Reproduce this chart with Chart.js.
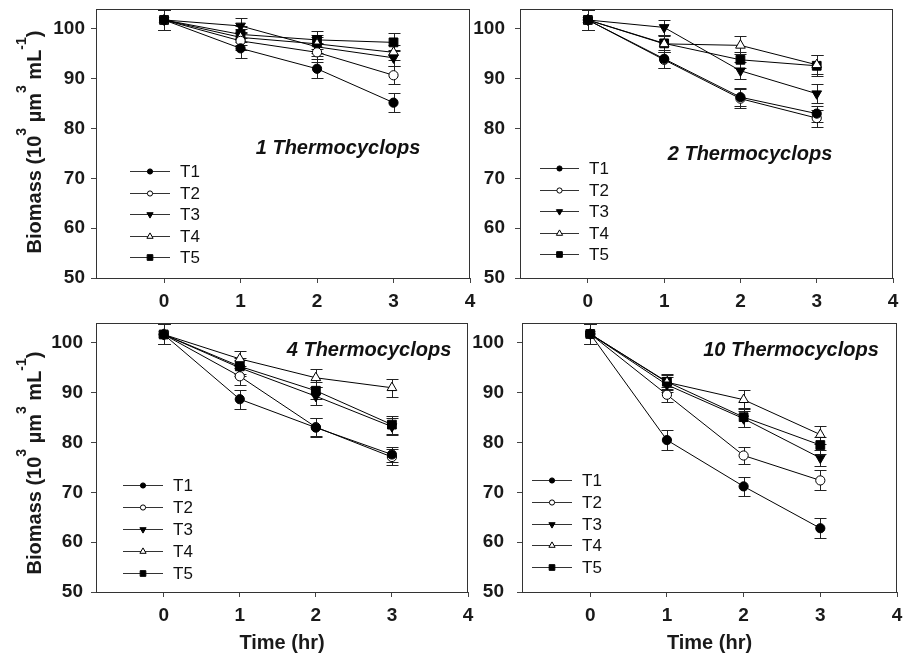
<!DOCTYPE html>
<html lang="en">
<head>
  <meta charset="UTF-8">
  <title>Biomass over time</title>
  <script src="https://cdn.jsdelivr.net/npm/chart.js"></script>
  <style>
    body { margin: 0; background: #fff; }
    #wrap { position: relative; width: 910px; height: 654px; overflow: hidden; }
    canvas { position: absolute; }
  </style>
</head>
<body>
  <div id="wrap">
    <canvas id="c1"></canvas>
    <canvas id="c2"></canvas>
    <canvas id="c3"></canvas>
    <canvas id="c4"></canvas>
  </div>

  <script>
    // ---- data ----
    const times = [0, 1, 2, 3];
    const xTicks = [0, 1, 2, 3, 4];
    const yTicks = [50, 60, 70, 80, 90, 100];
    const seriesNames = ['T1', 'T2', 'T3', 'T4', 'T5'];
    const panelTitles = ['1 Thermocyclops', '2 Thermocyclops', '4 Thermocyclops', '10 Thermocyclops'];

    // 1 Thermocyclops
    const p1T1 = [101.8, 96.1, 92.0, 85.2], p1T1err = [2.0, 2.0, 1.9, 1.9];
    const p1T2 = [101.8, 97.6, 95.3, 90.7], p1T2err = [2.0, 1.8, 1.9, 1.8];
    const p1T3 = [101.8, 100.6, 96.4, 94.2], p1T3err = [2.0, 1.5, 1.9, 1.6];
    const p1T4 = [101.8, 98.3, 97.0, 95.3], p1T4err = [2.0, 1.6, 1.8, 1.5];
    const p1T5 = [101.8, 98.9, 97.8, 97.3], p1T5err = [2.0, 1.6, 1.8, 1.8];

    // 2 Thermocyclops
    const p2T1 = [101.8, 94.0, 86.3, 83.0], p2T1err = [2.0, 1.8, 1.8, 1.6];
    const p2T2 = [101.8, 93.8, 86.0, 82.1], p2T2err = [2.0, 1.6, 1.9, 1.7];
    const p2T3 = [101.8, 100.3, 91.6, 87.0], p2T3err = [2.0, 1.5, 1.7, 1.9];
    const p2T4 = [101.8, 97.0, 96.7, 92.8], p2T4err = [2.0, 1.6, 1.8, 1.9];
    const p2T5 = [101.8, 97.1, 93.8, 92.6], p2T5err = [2.0, 1.7, 1.6, 2.1];

    // 4 Thermocyclops
    const p3T1 = [101.7, 88.7, 83.0, 77.6], p3T1err = [2.0, 1.9, 1.9, 1.6];
    const p3T2 = [101.7, 93.3, 83.1, 77.1], p3T2err = [2.0, 1.7, 1.8, 1.6];
    const p3T3 = [101.7, 95.0, 89.3, 83.2], p3T3err = [2.0, 1.6, 1.8, 1.7];
    const p3T4 = [101.7, 96.8, 93.0, 91.0], p3T4err = [2.0, 1.5, 1.8, 1.8];
    const p3T5 = [101.7, 95.3, 90.4, 83.6], p3T5err = [2.0, 1.6, 1.7, 1.8];

    // 10 Thermocyclops
    const p4T1 = [101.8, 80.5, 71.2, 62.8], p4T1err = [2.0, 2.0, 1.9, 2.0];
    const p4T2 = [101.8, 89.6, 77.4, 72.4], p4T2err = [2.0, 1.5, 1.8, 2.0];
    const p4T3 = [101.8, 91.6, 84.8, 76.9], p4T3err = [2.0, 1.5, 1.6, 1.7];
    const p4T4 = [101.8, 92.1, 88.6, 81.6], p4T4err = [2.0, 1.5, 1.9, 1.8];
    const p4T5 = [101.8, 92.2, 85.1, 79.5], p4T5err = [2.0, 1.5, 1.9, 1.7];

    // ---- look ----
    const FONT = 'Arial, "Liberation Sans", Helvetica, sans-serif';
    const markers = [
      { style: 'circle', r: 4.6, fill: '#000', rot: 0, lr: 2.6 },
      { style: 'circle', r: 4.6, fill: '#fff', rot: 0, lr: 2.6 },
      { style: 'triangle', r: 5.6, fill: '#000', rot: 180, lr: 3.6 },
      { style: 'triangle', r: 5.6, fill: '#fff', rot: 0, lr: 3.6 },
      { style: 'rect', r: 6.2, fill: '#000', rot: 0, lr: 4.0 }
    ];

    const panels = [
      { id: 'c1', means: [p1T1, p1T2, p1T3, p1T4, p1T5], errs: [p1T1err, p1T2err, p1T3err, p1T4err, p1T5err],
        area: { l: 96, t: 9, r: 470, b: 278 }, tickPad: 6,
        title: { x: 338, y: 154 }, legend: { x1: 130, x2: 170, tx: 180, y0: 171, dy: 21.5 },
        yTitle: { x: 41, cy: 142 }, xTitle: null },
      { id: 'c2', means: [p2T1, p2T2, p2T3, p2T4, p2T5], errs: [p2T1err, p2T2err, p2T3err, p2T4err, p2T5err],
        area: { l: 520, t: 9, r: 893, b: 278 }, tickPad: 10,
        title: { x: 750, y: 160 }, legend: { x1: 540, x2: 579, tx: 589, y0: 168, dy: 21.5 },
        yTitle: null, xTitle: null },
      { id: 'c3', means: [p3T1, p3T2, p3T3, p3T4, p3T5], errs: [p3T1err, p3T2err, p3T3err, p3T4err, p3T5err],
        area: { l: 96, t: 323, r: 468, b: 592 }, tickPad: 8,
        title: { x: 369, y: 356 }, legend: { x1: 123, x2: 163, tx: 173, y0: 485, dy: 22 },
        yTitle: { x: 41, cy: 463 }, xTitle: { x: 282, y: 643 } },
      { id: 'c4', means: [p4T1, p4T2, p4T3, p4T4, p4T5], errs: [p4T1err, p4T2err, p4T3err, p4T4err, p4T5err],
        area: { l: 522, t: 323, r: 897, b: 592 }, tickPad: 13,
        title: { x: 791, y: 356 }, legend: { x1: 532, x2: 572, tx: 582, y0: 480, dy: 21.8 },
        yTitle: null, xTitle: { x: 709.5, y: 643 } }
    ];

    const LEFT = 96, TOP = 9, RIGHT = 12, BOTTOM = 62;

    function noPad(s) {
      s.paddingTop = 0; s.paddingBottom = 0; s.paddingLeft = 0; s.paddingRight = 0;
    }

    // error bars under the lines
    const errorBars = {
      id: 'errorBars',
      beforeDatasetsDraw(chart) {
        const { ctx, scales: { x, y } } = chart;
        ctx.save();
        ctx.strokeStyle = '#222';
        ctx.lineWidth = 1;
        chart.data.datasets.forEach(ds => {
          ds.data.forEach((p, j) => {
            const px = Math.round(x.getPixelForValue(p.x)) + 0.5;
            const hi = Math.round(y.getPixelForValue(p.y + ds.errors[j])) + 0.5;
            const lo = Math.round(y.getPixelForValue(p.y - ds.errors[j])) + 0.5;
            ctx.beginPath();
            ctx.moveTo(px, hi); ctx.lineTo(px, lo);
            ctx.moveTo(px - 6, hi); ctx.lineTo(px + 6, hi);
            ctx.moveTo(px - 6, lo); ctx.lineTo(px + 6, lo);
            ctx.stroke();
          });
        });
        ctx.restore();
      }
    };

    function drawYTitle(ctx, bx, cy) {
      const parts = [['Biomass (10', 0], ['3', 1], [' \u00b5m', 0], ['3', 1], [' mL', 0], ['-1', 1], [')', 0]];
      const main = 'bold 20px ' + FONT, sup = 'bold 14px ' + FONT;
      ctx.save();
      ctx.translate(bx, cy);
      ctx.rotate(-Math.PI / 2);
      ctx.fillStyle = '#1a1a1a';
      ctx.textBaseline = 'alphabetic';
      let total = 0;
      parts.forEach(([t, s]) => { ctx.font = s ? sup : main; total += ctx.measureText(t).width; });
      let x = -total / 2;
      parts.forEach(([t, s]) => {
        ctx.font = s ? sup : main;
        ctx.fillText(t, x, s ? -15 : 0);
        x += ctx.measureText(t).width;
      });
      ctx.restore();
    }

    // frame, legend and texts
    const decor = {
      id: 'decor',
      afterDraw(chart, args, o) {
        const { ctx, chartArea: a } = chart;
        const ox = o.ox, oy = o.oy;
        ctx.save();
        ctx.strokeStyle = '#333';
        ctx.lineWidth = 1;
        ctx.strokeRect(Math.round(a.left) + 0.5, Math.round(a.top) + 0.5,
          Math.round(a.right - a.left) - 1, Math.round(a.bottom - a.top));

        // panel title
        ctx.fillStyle = '#111';
        ctx.font = 'italic bold 20px ' + FONT;
        ctx.textAlign = 'center';
        ctx.textBaseline = 'alphabetic';
        ctx.fillText(o.title, o.tpos.x - ox, o.tpos.y - oy);

        // legend
        const L = o.legend;
        chart.data.datasets.forEach((ds, i) => {
          const y = Math.round(L.y0 + i * L.dy - oy) + 0.5;
          ctx.strokeStyle = '#333';
          ctx.lineWidth = 1;
          ctx.beginPath();
          ctx.moveTo(L.x1 - ox, y); ctx.lineTo(L.x2 - ox, y);
          ctx.stroke();
          const m = markers[i];
          ctx.fillStyle = m.fill;
          ctx.strokeStyle = '#000';
          Chart.helpers.drawPoint(ctx, { pointStyle: m.style, radius: m.lr, rotation: m.rot, borderWidth: 1 },
            (L.x1 + L.x2) / 2 - ox, y);
          ctx.fillStyle = '#111';
          ctx.font = '17px ' + FONT;
          ctx.textAlign = 'left';
          ctx.textBaseline = 'middle';
          ctx.fillText(ds.label, L.tx - ox, y + 1);
        });

        if (o.yTitle) drawYTitle(ctx, o.yTitle.x - ox, o.yTitle.cy - oy);
        if (o.xTitle) {
          ctx.fillStyle = '#1a1a1a';
          ctx.font = 'bold 20px ' + FONT;
          ctx.textAlign = 'center';
          ctx.textBaseline = 'middle';
          ctx.fillText('Time (hr)', o.xTitle.x - ox, o.xTitle.y - oy);
        }
        ctx.restore();
      }
    };

    panels.forEach((p, k) => {
      const cv = document.getElementById(p.id);
      const ox = p.area.l - LEFT, oy = p.area.t - TOP;
      const w = p.area.r - p.area.l + LEFT + RIGHT;
      const h = p.area.b - p.area.t + TOP + BOTTOM;
      cv.width = w; cv.height = h;
      cv.style.left = ox + 'px'; cv.style.top = oy + 'px';
      cv.style.width = w + 'px'; cv.style.height = h + 'px';

      const datasets = seriesNames.map((name, i) => ({
        label: name,
        data: times.map((t, j) => ({ x: t, y: p.means[i][j] })),
        errors: p.errs[i],
        borderColor: '#000',
        borderWidth: 1,
        pointStyle: markers[i].style,
        pointRadius: markers[i].r,
        pointRotation: markers[i].rot,
        pointBackgroundColor: markers[i].fill,
        pointBorderColor: '#000',
        pointBorderWidth: 1,
        tension: 0,
        fill: false
      }));

      new Chart(cv, {
        type: 'line',
        data: { datasets },
        plugins: [errorBars, decor],
        options: {
          responsive: false,
          animation: false,
          events: [],
          layout: { padding: { left: 0, top: TOP, right: RIGHT, bottom: 0 } },
          plugins: {
            legend: { display: false },
            tooltip: { enabled: false },
            decor: { ox, oy, title: panelTitles[k], tpos: p.title, legend: p.legend, yTitle: p.yTitle, xTitle: p.xTitle }
          },
          scales: {
            x: {
              type: 'linear',
              min: -0.89,
              max: 4,
              afterBuildTicks: s => { s.ticks = xTicks.map(v => ({ value: v })); },
              afterFit: s => { s.height = BOTTOM; noPad(s); },
              grid: { drawOnChartArea: false, drawTicks: true, tickLength: 5, color: '#444' },
              border: { color: '#444', width: 1 },
              ticks: { color: '#1a1a1a', padding: 7, maxRotation: 0, font: { family: FONT, size: 19, weight: 'bold' } }
            },
            y: {
              min: 50,
              max: 104,
              afterBuildTicks: s => { s.ticks = yTicks.map(v => ({ value: v })); },
              afterFit: s => { s.width = LEFT; noPad(s); },
              grid: { drawOnChartArea: false, drawTicks: true, tickLength: 5, color: '#444' },
              border: { color: '#444', width: 1 },
              ticks: { color: '#1a1a1a', padding: p.tickPad, font: { family: FONT, size: 19, weight: 'bold' } }
            }
          }
        }
      });
    });
  </script>
</body>
</html>
